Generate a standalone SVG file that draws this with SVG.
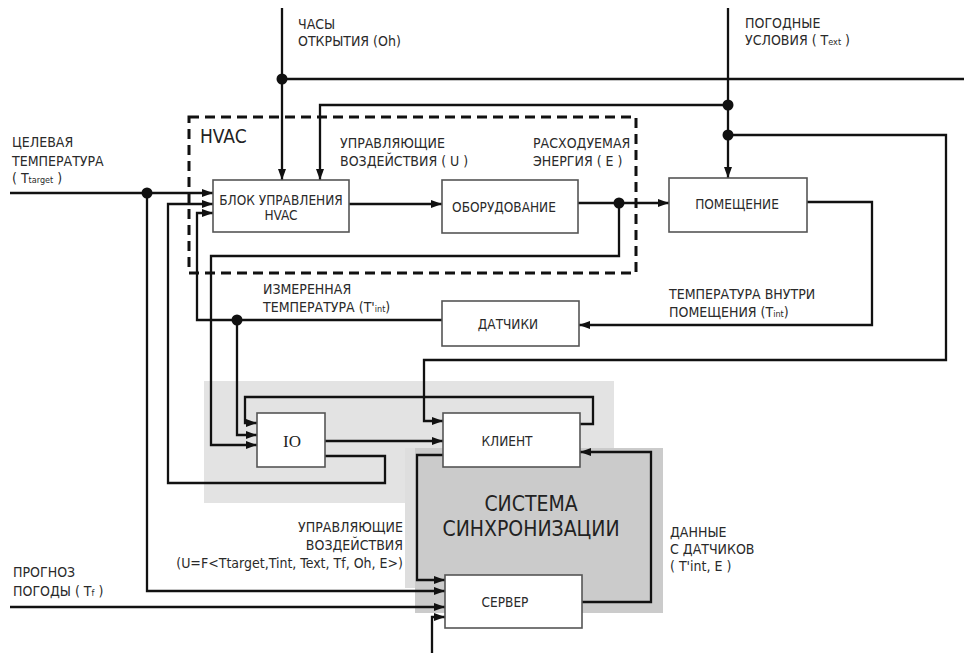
<svg xmlns="http://www.w3.org/2000/svg" width="964" height="653" viewBox="0 0 964 653">
<defs>
<marker id="arr" markerUnits="userSpaceOnUse" markerWidth="11" markerHeight="8" refX="11" refY="4" orient="auto">
<path d="M0,0 L11,4 L0,8 z" fill="#111"/>
</marker>
<style>
.ln{fill:none;stroke:#111;stroke-width:2.3;stroke-linejoin:miter}
.box{fill:#fff;stroke:#555;stroke-width:1.6}
.lbl{font-family:"DejaVu Sans Condensed","DejaVu Sans","Liberation Sans",sans-serif;font-stretch:condensed;font-size:14px;fill:#2a2a2a}
.bt{font-family:"DejaVu Sans Condensed","DejaVu Sans","Liberation Sans",sans-serif;font-stretch:condensed;font-size:13.5px;fill:#2a2a2a;text-anchor:middle}
.big{font-family:"DejaVu Sans Condensed","DejaVu Sans","Liberation Sans",sans-serif;font-stretch:condensed;fill:#222}
.sub{font-size:9px}
.dot{fill:#111}
</style>
</defs>
<rect width="964" height="653" fill="#fff"/>
<g id="zones">
<rect x="204" y="381" width="410" height="122" fill="#e3e3e3"/>
<rect x="405" y="448" width="12" height="140" fill="#dedede"/>
<rect x="415" y="448" width="248" height="165" fill="#cbcbcb"/>
<rect x="189" y="117" width="447" height="156" fill="none" stroke="#111" stroke-width="3" stroke-dasharray="10,6"/>
<text class="big" x="200" y="143" font-size="19">HVAC</text>
<text class="big" x="531" y="511" text-anchor="middle" font-size="21">СИСТЕМА</text>
<text class="big" x="531" y="536" text-anchor="middle" font-size="21">СИНХРОНИЗАЦИИ</text>
</g>
<g id="connectors">
<path class="ln" d="M282,8 V180" marker-end="url(#arr)"/>
<path class="ln" d="M282,79 H964" stroke-width="2"/>
<path class="ln" d="M728,8 V178" marker-end="url(#arr)"/>
<path class="ln" d="M728,105 H320 V180" marker-end="url(#arr)"/>
<path class="ln" d="M728,135 H946 V360 H424 V421 H443" marker-end="url(#arr)"/>
<path class="ln" d="M10,193 H213" marker-end="url(#arr)"/>
<path class="ln" d="M147,193 V591 H445" marker-end="url(#arr)"/>
<path class="ln" d="M349,204 H442" marker-end="url(#arr)"/>
<path class="ln" d="M578,203 H669" marker-end="url(#arr)"/>
<path class="ln" d="M619,203 V256 H211 V445 H257" marker-end="url(#arr)"/>
<path class="ln" d="M807,202 H872 V325 H579" marker-end="url(#arr)"/>
<path class="ln" d="M442,320 H197 V213 H213" marker-end="url(#arr)"/>
<path class="ln" d="M237,320 V435 H257" marker-end="url(#arr)"/>
<path class="ln" d="M580,424 H593 V397 H245 V423 H257" marker-end="url(#arr)"/>
<path class="ln" d="M325,441 H443" marker-end="url(#arr)"/>
<path class="ln" d="M325,456 H385 V483 H168 V204 H213" marker-end="url(#arr)"/>
<path class="ln" d="M443,455 H417 V580 H445" marker-end="url(#arr)"/>
<path class="ln" d="M582,602 H651 V452 H580" marker-end="url(#arr)"/>
<path class="ln" d="M10,607 H445" marker-end="url(#arr)"/>
<path class="ln" d="M432,653 V617 H445" marker-end="url(#arr)"/>
<circle class="dot" cx="282" cy="79" r="5.5"/>
<circle class="dot" cx="728" cy="105" r="5.5"/>
<circle class="dot" cx="728" cy="135" r="5.5"/>
<circle class="dot" cx="147" cy="193" r="5.5"/>
<circle class="dot" cx="619" cy="203" r="5.5"/>
<circle class="dot" cx="237" cy="320" r="5.5"/>
</g>
<g id="block-hvac">
<rect class="box" x="213" y="180" width="136" height="52"/>
<text class="bt" x="281" y="205" font-size="12">БЛОК УПРАВЛЕНИЯ</text>
<text class="bt" x="281" y="220" font-size="12">HVAC</text>
</g>
<g id="equipment">
<rect class="box" x="442" y="180" width="136" height="53"/>
<text class="bt" x="504" y="212">ОБОРУДОВАНИЕ</text>
</g>
<g id="room">
<rect class="box" x="669" y="178" width="138" height="54"/>
<text class="bt" x="737" y="209">ПОМЕЩЕНИЕ</text>
</g>
<g id="sensors">
<rect class="box" x="442" y="301" width="137" height="45"/>
<text class="bt" x="508" y="329">ДАТЧИКИ</text>
</g>
<g id="io">
<rect class="box" x="257" y="413" width="68" height="54"/>
<text x="292" y="447" text-anchor="middle" font-family="Liberation Serif,serif" font-size="17" fill="#222">IO</text>
</g>
<g id="client">
<rect class="box" x="443" y="413" width="137" height="54"/>
<text class="bt" x="507" y="446">КЛИЕНТ</text>
</g>
<g id="server">
<rect class="box" x="445" y="575" width="137" height="53"/>
<text class="bt" x="505" y="607">СЕРВЕР</text>
</g>
<g id="labels">
<text class="lbl" x="298" y="29">ЧАСЫ</text>
<text class="lbl" x="298" y="46">ОТКРЫТИЯ (Oh)</text>
<text class="lbl" x="745" y="28">ПОГОДНЫЕ</text>
<text class="lbl" x="745" y="45">УСЛОВИЯ ( T<tspan class="sub">ext</tspan> )</text>
<text class="lbl" x="12" y="147">ЦЕЛЕВАЯ</text>
<text class="lbl" x="12" y="166">ТЕМПЕРАТУРА</text>
<text class="lbl" x="12" y="183">( T<tspan class="sub">target</tspan> )</text>
<text class="lbl" x="340" y="148">УПРАВЛЯЮЩИЕ</text>
<text class="lbl" x="340" y="166">ВОЗДЕЙСТВИЯ ( U )</text>
<text class="lbl" x="533" y="148">РАСХОДУЕМАЯ</text>
<text class="lbl" x="533" y="166">ЭНЕРГИЯ ( E )</text>
<text class="lbl" x="263" y="294">ИЗМЕРЕННАЯ</text>
<text class="lbl" x="263" y="312">ТЕМПЕРАТУРА (T'<tspan class="sub">int</tspan>)</text>
<text class="lbl" x="669" y="299">ТЕМПЕРАТУРА ВНУТРИ</text>
<text class="lbl" x="669" y="317">ПОМЕЩЕНИЯ (T<tspan class="sub">int</tspan>)</text>
<text class="lbl" x="403" y="532" text-anchor="end">УПРАВЛЯЮЩИЕ</text>
<text class="lbl" x="403" y="550" text-anchor="end">ВОЗДЕЙСТВИЯ</text>
<text class="lbl" x="403" y="568" text-anchor="end">(U=F&lt;Ttarget,Tint, Text, Tf, Oh, E&gt;)</text>
<text class="lbl" x="13" y="577">ПРОГНОЗ</text>
<text class="lbl" x="13" y="596">ПОГОДЫ ( T<tspan class="sub">f</tspan> )</text>
<text class="lbl" x="670" y="537">ДАННЫЕ</text>
<text class="lbl" x="670" y="554">С ДАТЧИКОВ</text>
<text class="lbl" x="670" y="571">( T'int, E )</text>
</g>
</svg>
